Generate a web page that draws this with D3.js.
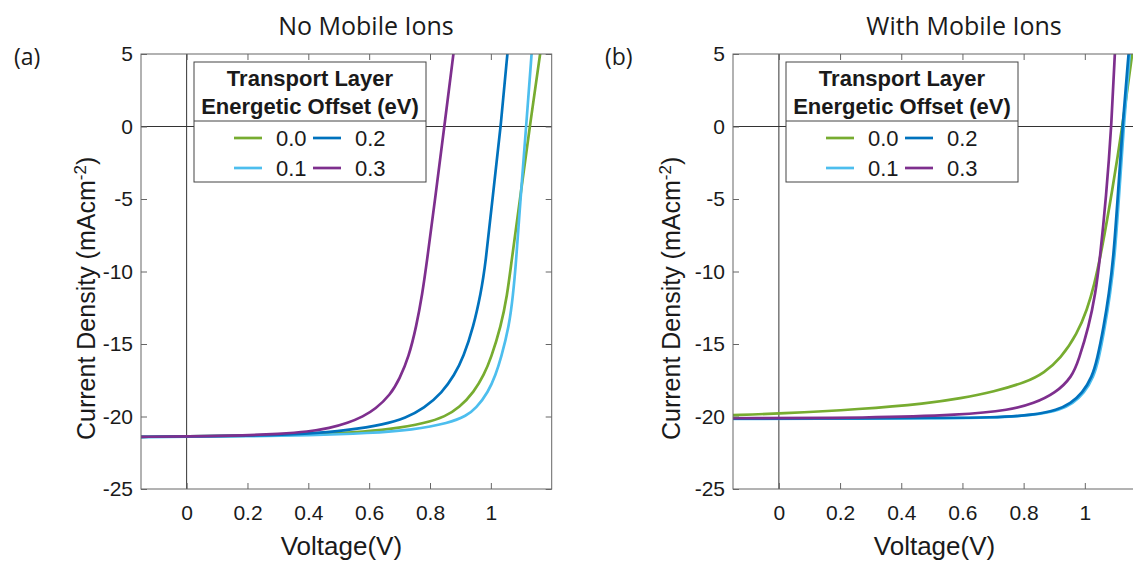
<!DOCTYPE html>
<html>
<head>
<meta charset="utf-8">
<script src="https://cdn.jsdelivr.net/npm/d3@7"></script>
<style>
  body { margin: 0; background: #fff; }
  text { font-family: "Liberation Sans", Arial, sans-serif; fill: #1a1a1a; }
  .title, .tag { font-family: "Open Sans", sans-serif; }
</style>
</head>
<body>
<svg id="chart" width="1133" height="561"></svg>
<script>
// ---- data: [voltage (V), current density (mA/cm2)] ----
const offsetLabels = ["0.0", "0.1", "0.2", "0.3"];
const lineColors = ["#77AC30", "#4DBEEE", "#0072BD", "#7E2F8E"];
const voltageTicks = [0, 0.2, 0.4, 0.6, 0.8, 1];
const currentTicks = [-25, -20, -15, -10, -5, 0, 5];

// (a) no mobile ions
const noIons00 = [[-0.15,-21.4],[0,-21.38],[0.2,-21.33],[0.4,-21.25],[0.55,-21.1],[0.667,-20.9],[0.787,-20.45],[0.85,-20.0],[0.896,-19.4],[0.945,-18.3],[0.978,-17.1],[1.0,-16.0],[1.033,-13.8],[1.054,-11.6],[1.066,-9.6],[1.097,-4.8],[1.128,0],[1.162,5],[1.17,6.2]];
const noIons01 = [[-0.15,-21.42],[0,-21.4],[0.2,-21.36],[0.4,-21.3],[0.6,-21.15],[0.743,-20.93],[0.863,-20.45],[0.92,-19.95],[0.951,-19.45],[0.992,-18.3],[1.016,-17.1],[1.033,-16.0],[1.06,-13.8],[1.073,-11.6],[1.082,-9.6],[1.098,-4.8],[1.116,0],[1.134,5],[1.138,6.2]];
const noIons02 = [[-0.15,-21.4],[0,-21.38],[0.2,-21.33],[0.4,-21.2],[0.53,-20.95],[0.65,-20.55],[0.72,-20.1],[0.78,-19.45],[0.84,-18.35],[0.88,-17.15],[0.91,-15.9],[0.943,-13.8],[0.967,-11.5],[0.982,-9.6],[1.006,-4.8],[1.033,0],[1.054,5],[1.06,6.2]];
const noIons03 = [[-0.15,-21.4],[0,-21.38],[0.2,-21.3],[0.3,-21.2],[0.4,-21.05],[0.47,-20.8],[0.53,-20.45],[0.58,-20.0],[0.62,-19.5],[0.67,-18.5],[0.7,-17.4],[0.73,-15.9],[0.755,-13.8],[0.775,-11.5],[0.788,-9.6],[0.818,-4.8],[0.847,0],[0.877,5],[0.884,6.2]];

// (b) with mobile ions
const ions00 = [[-0.15,-19.9],[0,-19.8],[0.267,-19.5],[0.485,-19.1],[0.593,-18.75],[0.702,-18.3],[0.812,-17.6],[0.866,-17.0],[0.921,-16.0],[0.975,-14.3],[1.008,-12.6],[1.03,-11.0],[1.055,-8.6],[1.09,-4.4],[1.123,0],[1.155,5],[1.162,6.2]];
const ions01 = [[-0.15,-20.17],[0.3,-20.15],[0.5,-20.12],[0.7,-20.1],[0.84,-19.9],[0.92,-19.55],[0.96,-19.1],[0.998,-18.4],[1.029,-17.25],[1.045,-16.1],[1.066,-13.8],[1.083,-11.5],[1.097,-9.2],[1.112,-4.8],[1.127,0],[1.147,5],[1.152,6.2]];
const ions02 = [[-0.15,-20.15],[0.3,-20.13],[0.5,-20.1],[0.7,-20.08],[0.833,-19.9],[0.91,-19.55],[0.953,-19.1],[0.992,-18.4],[1.024,-17.25],[1.04,-16.1],[1.062,-13.8],[1.079,-11.5],[1.093,-9.2],[1.108,-4.8],[1.123,0],[1.143,5],[1.148,6.2]];
const ions03 = [[-0.15,-20.12],[0.3,-20.1],[0.594,-19.9],[0.757,-19.55],[0.833,-19.1],[0.904,-18.4],[0.959,-17.25],[0.98,-16.1],[1.013,-13.8],[1.035,-11.5],[1.049,-9.2],[1.07,-4.8],[1.087,0],[1.098,5],[1.101,6.2]];

const svg = d3.select("#chart");
const plotTop = 54, plotBottom = 489;

function drawPanel(p) {
  const x = d3.scaleLinear().domain([-0.15, 1.2]).range([p.left, p.right]);
  const y = d3.scaleLinear().domain([-25, 5]).range([plotBottom, plotTop]);
  const g = svg.append("g");

  g.append("clipPath").attr("id", "clip-" + p.id)
    .append("rect").attr("x", p.left).attr("y", plotTop)
    .attr("width", p.right - p.left).attr("height", plotBottom - plotTop);

  // zero lines
  g.append("line").attr("x1", x(0)).attr("x2", x(0)).attr("y1", plotTop).attr("y2", plotBottom)
    .attr("stroke", "#333").attr("stroke-width", 1);
  g.append("line").attr("x1", p.left).attr("x2", p.right).attr("y1", y(0)).attr("y2", y(0))
    .attr("stroke", "#333").attr("stroke-width", 1);

  // curves
  const line = d3.line().x(d => x(d[0])).y(d => y(d[1])).curve(d3.curveBasis);
  g.append("g").attr("clip-path", `url(#clip-${p.id})`)
    .selectAll("path").data(p.series).enter().append("path")
    .attr("d", line)
    .attr("fill", "none")
    .attr("stroke", (d, i) => lineColors[i])
    .attr("stroke-width", 2.7);

  // axes (MATLAB style, ticks inside, box all round)
  const axisColor = "#666";
  const fmt = d => String(d);
  const xb = g.append("g").attr("transform", `translate(0,${plotBottom})`)
    .call(d3.axisBottom(x).tickValues(voltageTicks).tickFormat(fmt).tickSize(-6).tickPadding(16));
  const xt = g.append("g").attr("transform", `translate(0,${plotTop})`)
    .call(d3.axisTop(x).tickValues(voltageTicks).tickFormat("").tickSize(-6));
  const yl = g.append("g").attr("transform", `translate(${p.left},0)`)
    .call(d3.axisLeft(y).tickValues(currentTicks).tickFormat(fmt).tickSize(-6).tickPadding(8));
  const yr = g.append("g").attr("transform", `translate(${p.right},0)`)
    .call(d3.axisRight(y).tickValues(currentTicks).tickFormat("").tickSize(-6));
  [xb, xt, yl, yr].forEach(a => {
    a.select(".domain").remove();
    a.selectAll("line").attr("stroke", axisColor);
    a.selectAll("text").style("font-size", "21px").attr("fill", "#1a1a1a");
  });
  g.append("rect").attr("x", p.left).attr("y", plotTop)
    .attr("width", p.right - p.left).attr("height", plotBottom - plotTop)
    .attr("fill", "none").attr("stroke", axisColor).attr("stroke-width", 1);

  // axis labels
  g.append("text").attr("x", (p.left + p.right) / 2 - 5).attr("y", 555)
    .attr("text-anchor", "middle").style("font-size", "26px").text("Voltage(V)");
  const yLab = g.append("text")
    .attr("transform", `translate(${p.yLabelX},440) rotate(-90)`)
    .attr("text-anchor", "start").style("font-size", "25px");
  yLab.append("tspan").text("Current Density (mAcm");
  yLab.append("tspan").attr("baseline-shift", "super").style("font-size", "17px").text("-2");
  yLab.append("tspan").text(")");

  // panel title and tag
  g.append("text").attr("class", "title").attr("x", p.titleX).attr("y", 35)
    .attr("text-anchor", "middle").style("font-size", "25px").text(p.title);
  g.append("text").attr("class", "tag").attr("x", p.tagX).attr("y", 65)
    .style("font-size", "23px").text(p.tag);

  // legend
  const lx = p.left + 53, ly = 62, lw = 232, lh = 120;
  const lg = g.append("g");
  lg.append("rect").attr("x", lx).attr("y", ly).attr("width", lw).attr("height", lh)
    .attr("fill", "#fff").attr("stroke", "#444").attr("stroke-width", 1);
  lg.append("line").attr("x1", lx).attr("x2", lx + lw).attr("y1", ly + 59).attr("y2", ly + 59)
    .attr("stroke", "#444").attr("stroke-width", 1);
  lg.append("text").attr("x", lx + lw / 2).attr("y", ly + 24).attr("text-anchor", "middle")
    .style("font-size", "22px").style("font-weight", "bold").text("Transport Layer");
  lg.append("text").attr("x", lx + lw / 2).attr("y", ly + 52).attr("text-anchor", "middle")
    .style("font-size", "22px").style("font-weight", "bold").text("Energetic Offset (eV)");
  offsetLabels.forEach((lab, i) => {
    const col = Math.floor(i / 2), row = i % 2;
    const ex = lx + 40 + col * 79, ey = ly + 76 + row * 30;
    lg.append("line").attr("x1", ex).attr("x2", ex + 28).attr("y1", ey).attr("y2", ey)
      .attr("stroke", lineColors[i]).attr("stroke-width", 2.7);
    lg.append("text").attr("x", ex + 42).attr("y", ey + 8).style("font-size", "22px").text(lab);
  });
}

drawPanel({ id: "a", left: 141, right: 551.7, series: [noIons00, noIons01, noIons02, noIons03],
            title: "No Mobile Ions", titleX: 366, tag: "(a)", tagX: 14, yLabelX: 95 });
drawPanel({ id: "b", left: 733, right: 1146, series: [ions00, ions01, ions02, ions03],
            title: "With Mobile Ions", titleX: 964, tag: "(b)", tagX: 605, yLabelX: 680 });
</script>
</body>
</html>
